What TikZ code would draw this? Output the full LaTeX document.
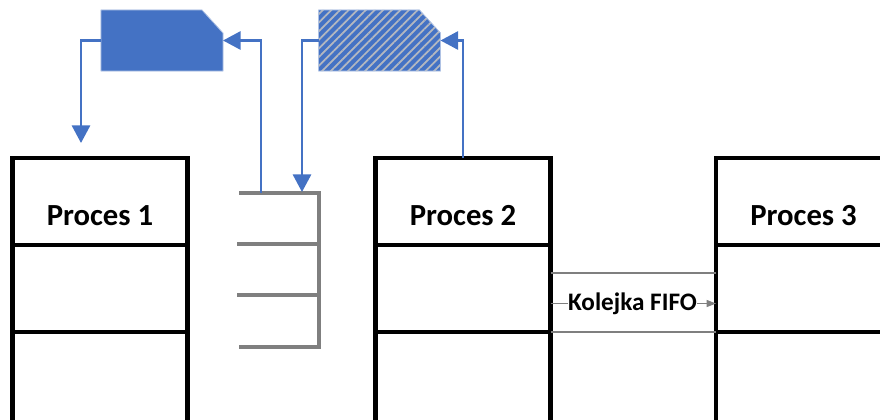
\documentclass[tikz,border=0pt]{standalone}
\usepackage{fontspec}
\setmainfont{Carlito}
\usetikzlibrary{arrows.meta,patterns.meta}
\definecolor{msgblue}{HTML}{4472C4}
\definecolor{edgeblue}{HTML}{AFC2E4}
\definecolor{stackgray}{HTML}{7F7F7F}
\definecolor{hatchgray}{HTML}{B4B8C0}

\begin{document}
\begin{tikzpicture}[x=0.03cm,y=-0.03cm,>={Triangle[length=15pt,width=15.5pt]},node distance=2.61cm]
    \tikzstyle{cell}=[rectangle,draw=black,line width=3.9pt,outer sep=0pt,inner sep=0pt,minimum width=5.25cm,minimum height=2.61cm]
    \tikzstyle{title}=[font=\fontsize{26.2}{30}\selectfont\bfseries,text height=42pt]
    \tikzstyle{message}=[rectangle,inner sep=0pt,outer sep=0pt,minimum width=3.66cm,minimum height=1.83cm]
    \tikzstyle{solid message}=[draw=edgeblue,line width=0.7pt,fill=msgblue]
    \tikzstyle{hatched message}=[draw=edgeblue,line width=0.7pt,preaction={fill=msgblue},pattern={Lines[angle=45,distance=5.2pt,line width=1.5pt]},pattern color=hatchgray]
    \tikzstyle{flow}=[->,draw=msgblue,line width=2pt]
    \tikzstyle{slot}=[draw=stackgray,line width=4pt]
    \tikzstyle{fifo line}=[draw=stackgray,line width=2pt]

    \useasboundingbox (0,0) rectangle (880,419);
    \clip (0,0) rectangle (880,419);

    % Draw the three processes
    \foreach \name / \x in {1/100,2/463,3/803.5} {
        \node[cell,title] (P\name-1) at (\x,201.5) {Proces \name};
        \node[cell,below of=P\name-1] (P\name-2) {};
        \node[cell,below of=P\name-2,minimum height=2.91cm,yshift=-0.15cm] (P\name-3) {};
    }

    % Draw the stack between process 1 and process 2
    \foreach \name / \y / \xs in {1/193/239,2/244/237,3/295/237,4/347/239} {
        \coordinate (S-\name) at (319,\y);
        \draw[slot] (\xs,\y) -- (S-\name);
    }
    \draw[slot,line cap=rect] (S-1) -- (S-4);
    \coordinate (S-out) at (261,193);
    \coordinate (S-in) at (302,192);

    % Draw the two messages
    \node[message] (M1) at (162,40.5) {};
    \node[message] (M2) at (379.5,40.5) {};
    \foreach \name / \look in {M1/solid message,M2/hatched message}
        \draw[style=\look] (\name.north west) -- ([xshift=-0.63cm]\name.north east) -- ([yshift=-0.69cm]\name.north east) -- (\name.south east) -- (\name.south west) -- cycle;

    % Connect the messages
    \coordinate (P1-in) at (81,143);
    \draw[flow] (M1.west) -| (P1-in);
    \draw[flow] (S-out) |- (M1.east);
    \draw[flow] (M2.west) -| (S-in);
    \draw[flow] (P2-1.north) |- (M2.east);

    % Draw the FIFO queue
    \node[inner sep=0pt,font=\fontsize{21.5}{26}\selectfont\bfseries] (fifo) at (632.5,303.5) {Kolejka FIFO};
    \coordinate (F-top) at (632.5,273);
    \draw[fifo line] (P2-2.east |- F-top) -- (P3-2.west |- F-top);
    \draw[fifo line] (P2-2.south east) -- (P3-2.south west);
    \draw[draw=stackgray,line width=0.8pt] (P2-2.east |- fifo) -- (fifo.west);
    \draw[-{Triangle[length=8pt,width=6pt]},draw=stackgray,fill=stackgray,line width=0.8pt] (fifo.east) -- (P3-2.west |- fifo);
\end{tikzpicture}
\end{document}
